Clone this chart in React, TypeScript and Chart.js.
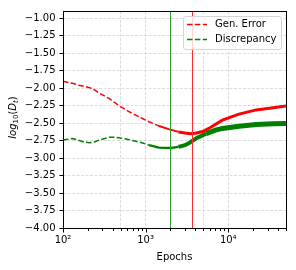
import React, { useEffect, useRef } from "react";
import { Chart, registerables } from "chart.js";

Chart.register(...registerables);

// ---------- data ----------
const genErrorX = [100, 130, 156, 190, 226, 275, 360, 477, 620, 830, 1100, 1450, 1900, 2500, 3000, 3500, 4000, 4900, 6000, 8500, 13500, 21800, 35000, 50000];
const genErrorY = [-1.9, -1.93, -1.956, -1.98, -2.003, -2.07, -2.146, -2.25, -2.33, -2.41, -2.48, -2.54, -2.585, -2.625, -2.642, -2.65, -2.645, -2.62, -2.565, -2.457, -2.37, -2.31, -2.28, -2.255];

const discX = [100, 115, 129, 150, 180, 208, 240, 275, 320, 360, 420, 477, 600, 760, 900, 1100, 1450, 2000, 2500, 3000, 3400, 4200, 5400, 7000, 8500, 13500, 21800, 35000, 50000];
const discY = [-2.74, -2.73, -2.72, -2.74, -2.77, -2.78, -2.77, -2.74, -2.72, -2.7, -2.7, -2.71, -2.73, -2.76, -2.78, -2.815, -2.85, -2.855, -2.84, -2.815, -2.78, -2.71, -2.65, -2.6, -2.575, -2.545, -2.52, -2.51, -2.505];

const seriesLabels = ["Gen. Error", "Discrepancy"];
const vlineX = [2000, 3600];

const yTicks = [-4, -3.75, -3.5, -3.25, -3, -2.75, -2.5, -2.25, -2, -1.75, -1.5, -1.25, -1];
const xMajorTicks = [100, 1000, 10000];
const xMinorTicks = [200, 300, 400, 500, 600, 700, 800, 900, 2000, 3000, 4000, 5000, 6000, 7000, 8000, 9000, 20000, 30000, 40000, 50000];
const xGridTicks = [100, 500, 1000, 5000, 10000, 50000];
const xTickLabels = ["10\u00B2", "10\u00B3", "10\u2074"];

const RED = "#ff0000";
const GREEN = "#008000";
const VRED = "#ff2a2a";
const VGREEN = "#2ca02c";
const FONT = "'DejaVu Sans', 'Liberation Sans', sans-serif";

const overlayPlugin = {
  id: "overlay",
  afterDatasetsDraw(chart: any) {
    const { ctx, chartArea: a, scales } = chart;
    const xs = scales.x;
    const vColors = [VGREEN, VRED];
    // vertical lines
    ctx.save();
    ctx.beginPath();
    ctx.rect(a.left, a.top, a.right - a.left, a.bottom - a.top);
    ctx.clip();
    vlineX.forEach((v, i) => {
      const px = Math.round(xs.getPixelForValue(v)) + 0.5;
      ctx.strokeStyle = vColors[i];
      ctx.lineWidth = 1;
      ctx.setLineDash([]);
      ctx.beginPath();
      ctx.moveTo(px, a.top);
      ctx.lineTo(px, a.bottom);
      ctx.stroke();
    });
    ctx.restore();

    // legend
    ctx.save();
    const bx = 183.5, by = 16.5, bw = 98, bh = 33, r = 2.5;
    ctx.beginPath();
    ctx.moveTo(bx + r, by);
    ctx.lineTo(bx + bw - r, by);
    ctx.arcTo(bx + bw, by, bx + bw, by + r, r);
    ctx.lineTo(bx + bw, by + bh - r);
    ctx.arcTo(bx + bw, by + bh, bx + bw - r, by + bh, r);
    ctx.lineTo(bx + r, by + bh);
    ctx.arcTo(bx, by + bh, bx, by + bh - r, r);
    ctx.lineTo(bx, by + r);
    ctx.arcTo(bx, by, bx + r, by, r);
    ctx.closePath();
    ctx.fillStyle = "rgba(255,255,255,0.8)";
    ctx.fill();
    ctx.strokeStyle = "#d6d6d6";
    ctx.lineWidth = 1;
    ctx.stroke();
    const cols = [RED, GREEN];
    const rows = [24.5, 39.5];
    seriesLabels.forEach((lab, i) => {
      ctx.strokeStyle = cols[i];
      ctx.lineWidth = 1.5;
      ctx.setLineDash([5.5, 2.4]);
      ctx.beginPath();
      ctx.moveTo(187, rows[i]);
      ctx.lineTo(207, rows[i]);
      ctx.stroke();
      ctx.setLineDash([]);
      ctx.fillStyle = "#000";
      ctx.font = `10px ${FONT}`;
      ctx.textBaseline = "middle";
      ctx.textAlign = "left";
      ctx.fillText(lab, 215, rows[i]);
    });
    ctx.restore();

    // frame
    ctx.save();
    ctx.strokeStyle = "#000";
    ctx.lineWidth = 1;
    ctx.setLineDash([]);
    ctx.strokeRect(a.left + 0.5, a.top + 0.5, a.right - a.left, a.bottom - a.top);
    // x tick marks
    const all = [...xMajorTicks.map((v) => [v, 3.5]), ...xMinorTicks.map((v) => [v, 2])];
    all.forEach(([v, len]) => {
      const px = Math.round(xs.getPixelForValue(v)) + 0.5;
      ctx.beginPath();
      ctx.moveTo(px, a.bottom + 1);
      ctx.lineTo(px, a.bottom + 1 + len);
      ctx.stroke();
    });
    ctx.restore();

    // y axis label (mathtext-like)
    ctx.save();
    ctx.translate(16, (a.top + a.bottom) / 2 - 2);
    ctx.rotate(-Math.PI / 2);
    ctx.fillStyle = "#000";
    ctx.textBaseline = "alphabetic";
    ctx.textAlign = "left";
    const pieces = [
      { t: "log", f: `italic 10px ${FONT}`, dy: 0 },
      { t: "10", f: `7px ${FONT}`, dy: 2 },
      { t: "(", f: `10px ${FONT}`, dy: 0 },
      { t: "D", f: `italic 10px ${FONT}`, dy: 0 },
      { t: "t", f: `italic 7px ${FONT}`, dy: 2 },
      { t: ")", f: `10px ${FONT}`, dy: 0 },
    ];
    let total = 0;
    pieces.forEach((p) => {
      ctx.font = p.f;
      total += ctx.measureText(p.t).width;
    });
    let cx = -total / 2;
    pieces.forEach((p) => {
      ctx.font = p.f;
      ctx.fillText(p.t, cx, p.dy);
      cx += ctx.measureText(p.t).width;
    });
    ctx.restore();
  },
};

export default function App() {
  const ref = useRef<HTMLCanvasElement | null>(null);
  useEffect(() => {
    if (!ref.current) return;
    const toPts = (xs: number[], ys: number[]) => xs.map((x, i) => ({ x, y: ys[i] }));
    const chart = new Chart(ref.current, {
      type: "line",
      data: {
        datasets: [
          {
            label: seriesLabels[0],
            data: toPts(genErrorX, genErrorY),
            borderColor: RED,
            borderWidth: 1.5,
            borderDash: [5.5, 2.4],
            pointRadius: 0,
            tension: 0,
            fill: false,
            segment: {
              borderDash: (c: any) => (c.p0.parsed.x >= 1450 ? [] : undefined),
              borderWidth: (c: any) => (c.p0.parsed.x >= 2500 ? 3 : c.p0.parsed.x >= 1450 ? 2 : undefined),
            },
          } as any,
          {
            label: seriesLabels[1],
            data: toPts(discX, discY),
            borderColor: GREEN,
            borderWidth: 1.5,
            borderDash: [5.5, 2.4],
            pointRadius: 0,
            tension: 0,
            fill: false,
            segment: {
              borderDash: (c: any) => (c.p0.parsed.x >= 1100 ? [] : undefined),
              borderWidth: (c: any) =>
                c.p0.parsed.x >= 5400 ? 5 : c.p0.parsed.x >= 2500 ? 4 : c.p0.parsed.x >= 1100 ? 2.4 : undefined,
            },
          } as any,
        ],
      },
      options: {
        animation: false,
        responsive: false,
        devicePixelRatio: 1,
        layout: { padding: { top: 11, right: 10, left: 0, bottom: 0 } },
        plugins: { legend: { display: false }, tooltip: { enabled: false } },
        scales: {
          x: {
            type: "logarithmic",
            min: 100,
            max: 50000,
            afterBuildTicks: (s: any) => {
              const vals = Array.from(new Set([...xMajorTicks, ...xMinorTicks, ...xGridTicks])).sort((p, q) => p - q);
              s.ticks = vals.map((value) => ({ value }));
            },
            afterFit: (s: any) => {
              s.height = 42;
            },
            ticks: {
              autoSkip: false,
              maxRotation: 0,
              padding: 6,
              color: "#000",
              font: { family: FONT, size: 10 },
              callback: (v: any) => {
                const i = xMajorTicks.indexOf(Number(v));
                return i >= 0 ? xTickLabels[i] : "";
              },
            },
            grid: {
              drawTicks: false,
              lineWidth: 1,
              color: (c: any) => (c.tick && xGridTicks.includes(c.tick.value) ? "#dcdcdc" : "rgba(0,0,0,0)"),
            },
            border: { display: false, dash: [3, 1.5] },
            title: {
              display: true,
              text: "Epochs",
              color: "#000",
              font: { family: FONT, size: 10 },
              padding: { top: 4, bottom: 7 },
            },
          } as any,
          y: {
            type: "linear",
            min: -4,
            max: -0.895,
            afterBuildTicks: (s: any) => {
              s.ticks = yTicks.map((value) => ({ value }));
            },
            afterFit: (s: any) => {
              s.width = 63;
            },
            ticks: {
              padding: 4,
              color: "#000",
              font: { family: FONT, size: 10 },
              callback: (v: any) => Number(v).toFixed(2).replace("-", "\u2212"),
            },
            grid: {
              color: "#dcdcdc",
              lineWidth: 1,
              drawTicks: true,
              tickLength: 3.5,
              tickColor: "#000",
              tickWidth: 1,
              tickBorderDash: [],
            },
            border: { display: false, dash: [3, 1.5] },
          } as any,
        },
      },
      plugins: [overlayPlugin],
    });
    return () => chart.destroy();
  }, []);
  return (
    <div style={{ position: "absolute", left: 0, top: 0, width: 296, height: 270, background: "#fff" }}>
      <canvas ref={ref} width={296} height={270} style={{ display: "block", width: 296, height: 270 }} />
    </div>
  );
}
